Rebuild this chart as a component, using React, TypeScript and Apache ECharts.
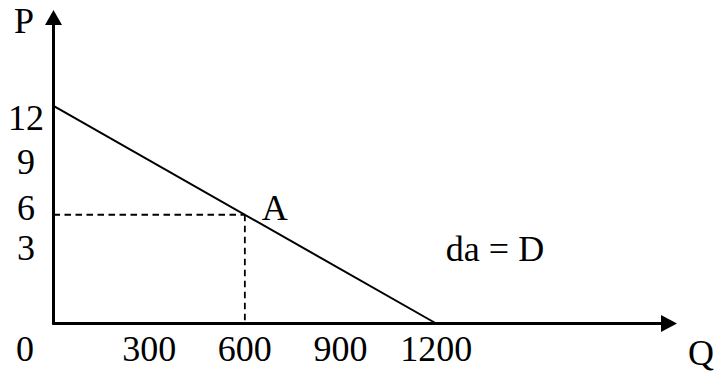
import React, { useEffect, useRef } from "react";
import * as echarts from "echarts";

const demandQ = [0, 1200];
const demandP = [12, 0];
const pointA = { q: 600, p: 6, name: "A" };
const xTickLabels = [300, 600, 900, 1200];
const yTickLabels = ["12", "9", "6", "3"];
const curveLabel = "da = D";
const axisNames = { x: "Q", y: "P" };

const FONT = "Liberation Serif";
const FS = 36;

export default function App() {
  const ref = useRef<HTMLDivElement>(null);
  useEffect(() => {
    if (!ref.current) return;
    const chart = echarts.init(ref.current, null, { renderer: "svg" });
    const yLabelPos = [118, 162, 208, 248];
    const txt = (text: string, x: number, y: number, align = "center") => ({
      type: "text",
      x,
      y,
      style: {
        text,
        fill: "#000",
        fontFamily: FONT,
        fontSize: FS,
        align,
        verticalAlign: "middle",
      },
    });
    chart.setOption({
      animation: false,
      backgroundColor: "#fff",
      grid: { left: 53.5, right: 46, top: 17.5, bottom: 50.5, containLabel: false },
      xAxis: {
        type: "value",
        min: 0,
        max: 1930,
        interval: 300,
        splitLine: { show: false },
        axisTick: { show: false },
        axisLine: {
          show: true,
          onZero: false,
          symbol: ["none", "triangle"],
          symbolSize: [17, 16],
          lineStyle: { color: "#000", width: 3 },
        },
        axisLabel: {
          margin: 7,
          color: "#000",
          fontFamily: FONT,
          fontSize: FS,
          formatter: (v: number) => (xTickLabels.includes(v) ? String(v) : ""),
        },
      },
      yAxis: {
        type: "value",
        min: 0,
        max: 16.88,
        splitLine: { show: false },
        axisTick: { show: false },
        axisLabel: { show: false },
        axisLine: {
          show: true,
          onZero: false,
          symbol: ["none", "triangle"],
          symbolSize: [17, 15],
          lineStyle: { color: "#000", width: 3 },
        },
      },
      series: [
        {
          type: "line",
          data: demandQ.map((q, i) => [q, demandP[i]]),
          symbol: "none",
          lineStyle: { color: "#000", width: 2 },
          z: 3,
        },
        {
          type: "line",
          data: [
            [0, pointA.p],
            [pointA.q, pointA.p],
          ],
          symbol: "none",
          lineStyle: { color: "#000", width: 1.8, type: [6.5, 4.5] },
        },
        {
          type: "line",
          data: [
            [pointA.q, pointA.p],
            [pointA.q, 0],
          ],
          symbol: "none",
          lineStyle: { color: "#000", width: 1.8, type: [6.5, 4.5] },
        },
        {
          type: "scatter",
          data: [[pointA.q, pointA.p]],
          symbolSize: 0,
          itemStyle: { opacity: 1, color: "#000" },
          label: {
            show: true,
            formatter: pointA.name,
            position: "right",
            distance: 17,
            offset: [0, -7],
            color: "#000",
            opacity: 1,
            fontFamily: FONT,
            fontSize: FS,
          },
        },
      ],
      graphic: [
        txt(axisNames.y, 24, 21),
        txt(axisNames.x, 701, 353),
        txt("0", 25, 349),
        ...yTickLabels.map((t, i) => txt(t, 26, yLabelPos[i])),
        txt(curveLabel, 495, 249),
      ],
    });
    return () => chart.dispose();
  }, []);
  return (
    <div
      ref={ref}
      style={{ position: "fixed", left: 0, top: 0, width: 715, height: 374 }}
    />
  );
}
